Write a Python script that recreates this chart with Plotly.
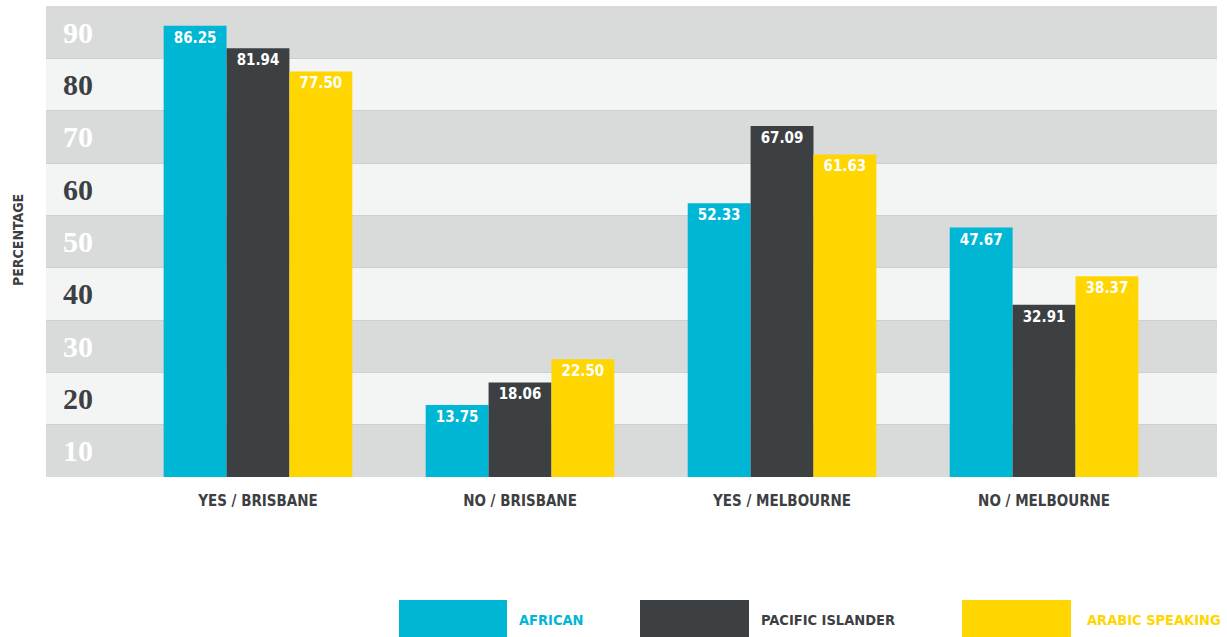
import plotly.graph_objects as go

categories = ["YES / BRISBANE", "NO / BRISBANE", "YES / MELBOURNE", "NO / MELBOURNE"]
african = [86.25, 13.75, 52.33, 47.67]
pacific = [81.94, 18.06, 67.09, 32.91]
arabic = [77.50, 22.50, 61.63, 38.37]
series_names = ["AFRICAN", "PACIFIC ISLANDER", "ARABIC SPEAKING"]
series_colors = ["#00b6d5", "#3c4043", "#ffd600"]
tick_labels = ["10", "20", "30", "40", "50", "60", "70", "80", "90"]

COND = "DejaVu Sans Condensed, DejaVu Sans, sans-serif"
DARK_BAND = "#d9dbda"
LIGHT_BAND = "#f3f5f4"

fig = go.Figure()
for name, vals, col in zip(series_names, [african, pacific, arabic], series_colors):
    fig.add_trace(go.Bar(
        name=name, x=categories, y=vals, marker=dict(color=col, line=dict(width=0)),
        texttemplate="%{y:.2f}", textposition="inside", insidetextanchor="end",
        textfont=dict(family=COND, size=15, color="white", weight="bold"),
        constraintext="none", showlegend=False,
    ))

# background bands
shapes = []
for i in range(9):
    shapes.append(dict(type="rect", xref="paper", yref="y", x0=0, x1=1, y0=i * 10, y1=i * 10 + 10,
                       fillcolor=DARK_BAND if i % 2 == 0 else LIGHT_BAND, line=dict(width=0), layer="below"))

# tick labels, alternating colours
ticktext = []
for i, t in enumerate(tick_labels):
    if i % 2 == 0:
        ticktext.append(f'<span style="color:rgb(255,255,255)">{t}</span>')
    else:
        ticktext.append(t)

# legend drawn manually (large swatches)
L, R, T, B = 46, 1217, 6, 477
def px(x):
    return (x - L) / (R - L)
def py(y):
    return (B - y) / (B - T)

annotations = []
legend_boxes = [(399, 507, 517), (640, 749, 759), (962, 1071, 1085)]
for (x0, x1, tx), name, col in zip(legend_boxes, series_names, series_colors):
    shapes.append(dict(type="rect", xref="paper", yref="paper", x0=px(x0), x1=px(x1), y0=py(637), y1=py(600),
                       fillcolor=col, line=dict(width=0)))
    annotations.append(dict(xref="paper", yref="paper", x=px(tx), y=py(620), text=name, showarrow=False,
                            xanchor="left", yanchor="middle",
                            font=dict(family=COND, size=14.5, color=col, weight="bold")))

annotations.append(dict(xref="paper", yref="paper", x=px(18), y=py(240), text="PERCENTAGE", showarrow=False,
                        textangle=-90, xanchor="center", yanchor="middle",
                        font=dict(family=COND, size=14, color="#3c4043", weight="bold")))

fig.update_layout(
    width=1227, height=637,
    margin=dict(l=L, r=1227 - R, t=T, b=637 - B),
    paper_bgcolor="white", plot_bgcolor=DARK_BAND,
    barmode="group", bargap=0.28, bargroupgap=0,
    shapes=shapes, annotations=annotations,
    xaxis=dict(range=[-0.809, 3.66], showgrid=False, zeroline=False, showline=False,
               ticks="", ticklabelstandoff=13,
               tickfont=dict(family=COND, size=15, color="#3c4043", weight="bold")),
    yaxis=dict(range=[0, 90], tickvals=[5, 15, 25, 35, 45, 55, 65, 75, 85], ticktext=ticktext,
               ticklabelposition="inside", ticklabelstandoff=14, ticks="",
               showgrid=False, zeroline=False, showline=False,
               minor=dict(tickvals=[10, 20, 30, 40, 50, 60, 70, 80], showgrid=True, gridcolor="#cdd0ce", gridwidth=1),
               tickfont=dict(family="Liberation Serif, DejaVu Serif, serif", size=30, weight="bold", color="#3c4043")),
)

fig.write_html("out.html", config={"displayModeBar": False},
               post_script="document.body.style.margin='0';")
